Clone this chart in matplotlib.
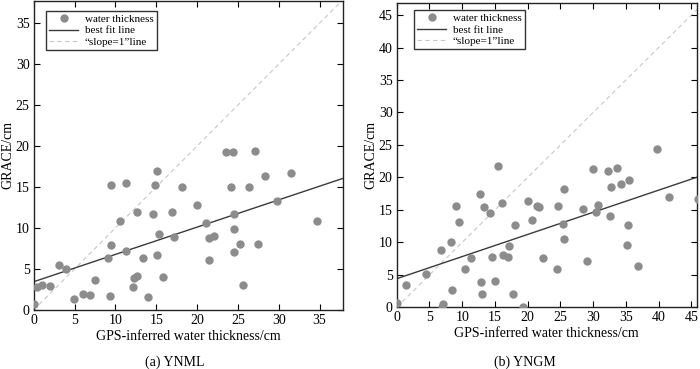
import matplotlib
matplotlib.use("Agg")
import matplotlib.pyplot as plt
import numpy as np

plt.rcParams["font.family"] = ["Liberation Serif", "DejaVu Serif"]
plt.rcParams["xtick.direction"] = "in"
plt.rcParams["ytick.direction"] = "in"

# (a) YNML
ynml_gps = [0.0, 0.45, 1.0, 2.0, 3.1, 4.0, 4.9, 6.0, 6.9, 7.55, 9.1, 9.5, 9.35, 9.5,
            10.6, 11.3, 11.3, 12.7, 12.2, 12.3, 12.7, 13.4, 14.0, 14.65, 14.9, 15.1,
            15.35, 15.1, 15.8, 16.9, 17.2, 18.1, 20.0, 21.1, 21.5, 21.5, 22.1, 23.6,
            24.4, 24.1, 24.55, 24.5, 24.5, 25.3, 25.6, 26.35, 27.1, 27.5, 28.3, 29.8,
            31.5, 34.7]
ynml_grace = [0.7, 2.8, 3.0, 2.9, 5.5, 5.0, 1.4, 1.95, 1.8, 3.7, 6.4, 7.9, 1.7, 15.3,
              10.8, 7.2, 15.5, 12.0, 2.85, 3.95, 4.2, 6.3, 1.55, 11.7, 15.3, 17.0,
              9.3, 6.7, 4.0, 12.0, 8.95, 15.0, 12.8, 10.6, 6.05, 8.8, 9.0, 19.25,
              19.25, 15.0, 11.7, 9.9, 7.1, 8.05, 3.05, 15.0, 19.45, 8.05, 16.4, 13.3,
              16.7, 10.9]
ynml_fit = [0.333, 3.45]   # slope, intercept

# (b) YNGM
yngm_gps = [0.0, 1.4, 4.4, 6.8, 6.9, 7.1, 8.3, 8.4, 9.1, 9.5, 10.4, 11.4, 12.7, 12.9,
            13.0, 13.4, 14.3, 14.5, 15.0, 15.4, 16.0, 16.2, 17.0, 17.2, 17.8, 18.1,
            19.3, 20.0, 20.7, 21.4, 21.8, 22.3, 24.5, 24.6, 25.6, 25.4, 25.5, 28.5,
            29.1, 29.9, 30.5, 30.8, 32.2, 32.7, 32.5, 33.6, 34.2, 35.5, 35.3, 35.2,
            36.9, 39.7, 41.6, 46.0]
yngm_grace = [0.6, 3.4, 5.2, 8.8, 0.1, 0.5, 10.05, 2.6, 15.6, 13.2, 5.9, 7.6, 17.4, 3.9,
              2.1, 15.4, 14.5, 7.8, 4.1, 21.75, 16.0, 8.0, 7.7, 9.5, 2.1, 12.6,
              0.0, 16.3, 13.5, 15.6, 15.5, 7.6, 5.85, 15.6, 18.2, 12.8, 10.5, 15.15,
              7.1, 21.3, 14.7, 15.8, 20.95, 18.5, 14.1, 21.4, 19.0, 19.6, 12.7, 9.6,
              6.3, 24.45, 17.0, 16.6]
yngm_fit = [0.341, 4.4]

panels = [
    ("(a) YNML", ynml_gps, ynml_grace, ynml_fit, 37.9, 37.7, range(0, 36, 5), range(0, 36, 5)),
    ("(b) YNGM", yngm_gps, yngm_grace, yngm_fit, 45.8, 46.9, range(0, 46, 5), range(0, 46, 5)),
]

fig = plt.figure(figsize=(7.0, 3.69), dpi=100)
rects = [[0.0481, 0.1599, 0.4423, 0.8374], [0.5667, 0.1672, 0.4286, 0.8255]]
legend_pos = [(0.039, 0.968), (0.058, 0.976)]

for i, (name, gps, grace, fit, xmax, ymax, xt, yt) in enumerate(panels):
    ax = fig.add_axes(rects[i])

    ax.plot(gps, grace, "o", color="#8c8c8c", markeredgecolor="#8c8c8c",
            markersize=5, label="water thickness", clip_on=True, zorder=3)

    xs = np.array([0, xmax])
    ax.plot(xs, fit[0] * xs + fit[1], color="#3a3a3a", linewidth=1.0,
            label="best fit line", zorder=2)

    lim = max(xmax, ymax)
    ax.plot([0, lim], [0, lim], color="#c8c8c8", linewidth=0.8,
            linestyle=(0, (4, 3)), label="\u201cslope=1\u201dline", zorder=1)

    ax.set_xlim(0, xmax)
    ax.set_ylim(0, ymax)
    ax.set_xticks(list(xt))
    ax.set_yticks(list(yt))
    ax.tick_params(top=True, right=True, labelsize=10, length=4, width=0.8, pad=3)
    for spine in ax.spines.values():
        spine.set_linewidth(1.0)
        spine.set_color("#222222")

    ax.set_xlabel("GPS-inferred water thickness/cm", fontsize=10, labelpad=2)
    ax.set_ylabel("GRACE/cm", fontsize=10, labelpad=1)

    leg = ax.legend(loc="upper left", bbox_to_anchor=legend_pos[i], borderaxespad=0,
                    fontsize=8, frameon=True, fancybox=False, numpoints=1,
                    handlelength=2.6, handletextpad=0.6, borderpad=0.3,
                    labelspacing=0.15)
    leg.get_frame().set_edgecolor("black")
    leg.get_frame().set_linewidth(1.0)

x_caps = [175 / 700, 525 / 700]
for i, (name, *_rest) in enumerate(panels):
    fig.text(x_caps[i], 1 - 362 / 369, name, ha="center", va="center", fontsize=10)

fig.savefig("out.png", dpi=100, facecolor="white")
